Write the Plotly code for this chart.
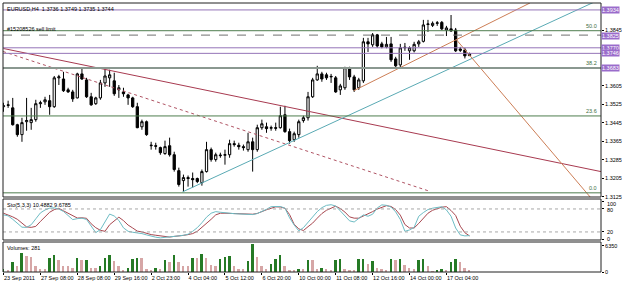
import plotly.graph_objects as go
from plotly.subplots import make_subplots

# ---------------- data ----------------
open_ = [1.3515, 1.3523, 1.3510, 1.3437, 1.3394, 1.3450, 1.3446, 1.3459, 1.3528, 1.3536,
         1.3541, 1.3515, 1.3640, 1.3635, 1.3588, 1.3579, 1.3553, 1.3657, 1.3631, 1.3558,
         1.3528, 1.3553, 1.3618, 1.3640, 1.3627, 1.3588, 1.3579, 1.3566, 1.3553, 1.3515,
         1.3428, 1.3450, 1.3346, 1.3346, 1.3338, 1.3312, 1.3346, 1.3307, 1.3238, 1.3195,
         1.3208, 1.3204, 1.3204, 1.3186, 1.3234, 1.3329, 1.3286, 1.3303, 1.3305, 1.3307,
         1.3355, 1.3348, 1.3342, 1.3329, 1.3363, 1.3329, 1.3424, 1.3428, 1.3422, 1.3424,
         1.3424, 1.3480, 1.3407, 1.3372, 1.3394, 1.3455, 1.3467, 1.3558, 1.3631, 1.3657,
         1.3653, 1.3644, 1.3640, 1.3588, 1.3597, 1.3684, 1.3644, 1.3597, 1.3627, 1.3796,
         1.3783, 1.3826, 1.3787, 1.3774, 1.3787, 1.3722, 1.3696, 1.3770, 1.3757, 1.3757,
         1.3787, 1.3798, 1.3871, 1.3867, 1.3876, 1.3880, 1.3847, 1.3852, 1.3847, 1.3765,
         1.3761, 1.3736]
high = [1.3532, 1.3541, 1.3553, 1.3441, 1.3467, 1.3553, 1.3510, 1.3545, 1.3541, 1.3558,
        1.3566, 1.3648, 1.3653, 1.3666, 1.3597, 1.3588, 1.3662, 1.3684, 1.3640, 1.3575,
        1.3558, 1.3631, 1.3679, 1.3675, 1.3662, 1.3609, 1.3597, 1.3571, 1.3558, 1.3532,
        1.3459, 1.3455, 1.3363, 1.3359, 1.3342, 1.3368, 1.3381, 1.3320, 1.3251, 1.3221,
        1.3217, 1.3230, 1.3208, 1.3243, 1.3363, 1.3338, 1.3316, 1.3316, 1.3329, 1.3372,
        1.3368, 1.3359, 1.3351, 1.3402, 1.3381, 1.3437, 1.3459, 1.3446, 1.3433, 1.3446,
        1.3515, 1.3519, 1.3420, 1.3407, 1.3459, 1.3476, 1.3579, 1.3640, 1.3692, 1.3666,
        1.3662, 1.3657, 1.3648, 1.3614, 1.3688, 1.3688, 1.3653, 1.3640, 1.3813, 1.3813,
        1.3834, 1.3830, 1.3796, 1.3817, 1.3817, 1.3731, 1.3787, 1.3791, 1.3776, 1.3796,
        1.3804, 1.3891, 1.3891, 1.3884, 1.3886, 1.3886, 1.3865, 1.3912, 1.3856, 1.3774,
        1.3770, 1.3749]
low = [1.3493, 1.3510, 1.3433, 1.3385, 1.3363, 1.3411, 1.3415, 1.3450, 1.3510, 1.3523,
       1.3480, 1.3510, 1.3609, 1.3579, 1.3575, 1.3536, 1.3551, 1.3631, 1.3553, 1.3519,
       1.3523, 1.3545, 1.3601, 1.3601, 1.3562, 1.3553, 1.3558, 1.3523, 1.3510, 1.3422,
       1.3415, 1.3389, 1.3329, 1.3329, 1.3307, 1.3307, 1.3299, 1.3234, 1.3169, 1.3147,
       1.3169, 1.3165, 1.3184, 1.3173, 1.3230, 1.3277, 1.3277, 1.3294, 1.3264, 1.3294,
       1.3342, 1.3329, 1.3325, 1.3320, 1.3234, 1.3320, 1.3415, 1.3402, 1.3411, 1.3411,
       1.3420, 1.3402, 1.3355, 1.3363, 1.3381, 1.3446, 1.3455, 1.3553, 1.3627, 1.3623,
       1.3631, 1.3618, 1.3575, 1.3566, 1.3588, 1.3631, 1.3579, 1.3588, 1.3618, 1.3752,
       1.3774, 1.3770, 1.3768, 1.3768, 1.3709, 1.3681, 1.3684, 1.3757, 1.3718, 1.3750,
       1.3774, 1.3793, 1.3839, 1.3860, 1.3865, 1.3847, 1.3821, 1.3839, 1.3752, 1.3752,
       1.3724, 1.3735]
close = [1.3519, 1.3521, 1.3437, 1.3394, 1.3446, 1.3455, 1.3459, 1.3528, 1.3532, 1.3545,
         1.3515, 1.3640, 1.3644, 1.3584, 1.3579, 1.3549, 1.3657, 1.3635, 1.3558, 1.3523,
         1.3553, 1.3618, 1.3648, 1.3653, 1.3571, 1.3597, 1.3571, 1.3553, 1.3515, 1.3424,
         1.3450, 1.3394, 1.3348, 1.3344, 1.3316, 1.3342, 1.3307, 1.3243, 1.3178, 1.3208,
         1.3204, 1.3199, 1.3191, 1.3234, 1.3329, 1.3286, 1.3307, 1.3305, 1.3307, 1.3355,
         1.3351, 1.3342, 1.3338, 1.3363, 1.3329, 1.3424, 1.3441, 1.3420, 1.3424, 1.3422,
         1.3476, 1.3407, 1.3368, 1.3398, 1.3450, 1.3467, 1.3558, 1.3631, 1.3657, 1.3635,
         1.3640, 1.3646, 1.3579, 1.3605, 1.3684, 1.3644, 1.3588, 1.3631, 1.3796, 1.3787,
         1.3826, 1.3778, 1.3774, 1.3785, 1.3718, 1.3692, 1.3770, 1.3772, 1.3770, 1.3785,
         1.3796, 1.3869, 1.3873, 1.3876, 1.3878, 1.3852, 1.3856, 1.3843, 1.3757, 1.3759,
         1.3735, 1.3744]

stoch_k = [64.6, 62, 53, 41.4, 32.4, 32, 38.9, 54.3, 69.7, 77.4,
           82, 83, 79.5, 73.5, 61.6, 52.2, 54.7, 56, 52.6, 33.7,
           18.3, 26, 47.4, 66.7, 61.6, 50, 30.7, 21.7, 19.2, 17.9,
           15.7, 12.3, 8.9, 6.3, 4.6, 5.5, 6.7, 8.4, 9.7, 11.4,
           14, 21.7, 31.2, 44, 58.6, 68.9, 73.1, 71.4, 69.7, 68.4,
           67.7, 67.1, 66.3, 65.2, 65.4, 68, 73.1, 79.1, 86, 86.9,
           86.4, 82.1, 56.9, 38, 23, 31.1, 45.7, 59.4, 73.1, 83.4,
           89.4, 91.1, 87.7, 74.9, 62.9, 49, 46, 56, 64.6, 61,
           66.3, 82.6, 90.7, 89.4, 84.9, 72.3, 52.6, 21.7, 25.2, 32,
           61, 70.6, 78.5, 82, 83.9, 85.8, 77.4, 61, 30.3, 12.3,
           9.7, 10.4882]
stoch_d = [68.9, 64.6, 59.4, 53, 43.1, 33.2, 32, 34.6, 47.4, 60.7,
           71.4, 78.3, 81.7, 75.1, 68.4, 62.9, 56.3, 56.9, 55.6, 41.4,
           31.1, 24.3, 21.7, 38.9, 49.1, 58.6, 49.6, 38, 30.3, 22.2,
           20, 16.1, 13.1, 11.4, 10.1, 7.2, 6.7, 8.4, 8.9, 11,
           13.1, 15.7, 21.7, 31.6, 41.4, 53, 64.6, 68.9, 68.9, 68.4,
           67.1, 66.3, 66.3, 66.3, 66.3, 68.4, 73.6, 77.9, 81.7, 85.6,
           85.1, 81.7, 65.4, 39.7, 28.1, 23.8, 33.7, 43.1, 56, 68,
           76.6, 82.1, 87.3, 80.9, 71.9, 59.4, 56, 56, 61, 66.3,
           73.1, 79.7, 84.3, 88.6, 86.5, 78.3, 63.9, 39.3, 30.3, 30.3,
           42.3, 55.5, 68.9, 76.6, 81.7, 84.7, 86, 76, 62.9, 35,
           18, 9.6785]

volume = [670, 400, 2350, 1340, 4700, 3860, 3610, 1510, 840, 840,
          3360, 4200, 3020, 1340, 1340, 1090, 3360, 2940, 3020, 1090,
          1090, 1510, 3360, 4030, 2770, 1340, 500, 1090, 3190, 3360,
          3360, 840, 250, 1090, 840, 3020, 2520, 4030, 2350, 1510,
          1340, 3360, 3360, 4450, 3360, 1680, 1340, 3190, 3610, 3860,
          1340, 840, 670, 2770, 6720, 3610, 1510, 670, 1930, 3190,
          4200, 1510, 500, 250, 840, 670, 3020, 3020, 840, 900,
          670, 250, 3020, 3100, 670, 500, 250, 3190, 3250, 1930,
          2770, 1090, 670, 600, 3190, 3020, 3190, 1680, 1090, 840,
          3020, 3190, 1340, 100, 250, 840, 250, 2350, 3190, 2520,
          1090, 281]

date_bars = [0, 8, 16, 24, 32, 40, 48, 56, 64, 72, 80, 88, 96]
date_labels = ["23 Sep 2011", "27 Sep 08:00", "28 Sep 08:00", "29 Sep 16:00",
               "2 Oct 23:00", "4 Oct 04:00", "5 Oct 12:00", "6 Oct 20:00",
               "10 Oct 00:00", "11 Oct 08:00", "12 Oct 16:00", "14 Oct 00:00",
               "17 Oct 04:00"]

price_ticks = [1.3125, 1.3205, 1.3285, 1.3365, 1.3445, 1.3525, 1.3605, 1.3845]

stoch_ticks = [0, 20, 80, 100]
volume_ticks = [0, 6350]

fib_labels = ["0.0", "23.6", "38.2", "50.0"]
fib_prices = [1.3142, 1.3475, 1.3683, 1.3844]

purple_levels = [1.3934, 1.3770, 1.3746]
grey_level = 1.3683
sell_limit = 1.3825
level_tags = [1.3934, 1.3825, 1.3770, 1.3746, 1.3683]

# trend lines: ([bar_a, bar_b], [price_a, price_b])
trend_red = ([0, 129.5], [1.3767, 1.3234])
trend_red_dot = ([-0.1, 92.5], [1.3754, 1.3148])
trend_teal = ([38.8, 127.8], [1.3146, 1.3966])
trend_orange_up = ([75.9, 114.1], [1.3584, 1.3964])
trend_orange_down = ([98.2, 127.4], [1.3804, 1.3118])

bars = list(range(len(close)))

# ---------------- figure ----------------
W, H = 625, 284
ML, MR, MT, MB = 3, 22, 3, 12
plot_h = H - MT - MB


def dom(top_px, bot_px):
    return [(H - MB - bot_px) / plot_h, (H - MB - top_px) / plot_h]


d_main = dom(3, 197)
d_sto = dom(199, 240)
d_vol = dom(242, 272)

FONT = "Liberation Sans"
FS = 5.5

fig = make_subplots(rows=3, cols=1, shared_xaxes=True, vertical_spacing=0)

fig.add_trace(go.Candlestick(
    x=bars, open=open_, high=high, low=low, close=close,
    increasing=dict(line=dict(color="black", width=1), fillcolor="white"),
    decreasing=dict(line=dict(color="black", width=1), fillcolor="black"),
    whiskerwidth=0, showlegend=False, hoverinfo="skip"), row=1, col=1)

# horizontal levels
for p in fib_prices:
    fig.add_shape(type="line", xref="paper", x0=0, x1=1, yref="y", y0=p, y1=p,
                  line=dict(color="#4E7D4E", width=1))
fig.add_shape(type="line", xref="paper", x0=0, x1=1, yref="y", y0=grey_level, y1=grey_level,
              line=dict(color="#8A9890", width=2))
for p in purple_levels:
    fig.add_shape(type="line", xref="paper", x0=0, x1=1, yref="y", y0=p, y1=p,
                  line=dict(color="#9474B8", width=1))
fig.add_shape(type="line", xref="paper", x0=0, x1=1, yref="y", y0=sell_limit, y1=sell_limit,
              line=dict(color="#707070", width=1, dash="dash"))

# trend lines
for tl, col, dash in ((trend_red, "#A83A50", "solid"),
                      (trend_red_dot, "#B05464", "dot"),
                      (trend_teal, "#5AAAB4", "solid"),
                      (trend_orange_up, "#CC7E56", "solid"),
                      (trend_orange_down, "#CC7E56", "solid")):
    fig.add_trace(go.Scatter(x=tl[0], y=tl[1], mode="lines",
                             line=dict(color=col, width=1, dash=dash), showlegend=False,
                             hoverinfo="skip"), row=1, col=1)

# stochastic
fig.add_trace(go.Scatter(x=bars, y=stoch_d, mode="lines",
                         line=dict(color="#A84850", width=1), showlegend=False,
                         hoverinfo="skip"), row=2, col=1)
fig.add_trace(go.Scatter(x=bars, y=stoch_k, mode="lines",
                         line=dict(color="#6DBCC4", width=1), showlegend=False,
                         hoverinfo="skip"), row=2, col=1)
for lv in (20, 80):
    fig.add_shape(type="line", xref="paper", x0=0, x1=1, yref="y2", y0=lv, y1=lv,
                  line=dict(color="#A8A8A8", width=1, dash="dot"))

# volume
vol_colors = []
for i, v in enumerate(volume):
    prev = volume[i - 1] if i > 0 else 0
    vol_colors.append("#257A25" if v > prev else "#D6A6A6")
fig.add_trace(go.Bar(x=bars, y=volume, marker=dict(color=vol_colors, line=dict(width=0)),
                     width=0.42, showlegend=False, hoverinfo="skip"), row=3, col=1)

# frames
for d in (d_main, d_sto, d_vol):
    fig.add_shape(type="rect", xref="paper", yref="paper", x0=0, x1=1, y0=d[0], y1=d[1],
                  line=dict(color="#202020", width=1), fillcolor="rgba(0,0,0,0)")

# annotations
txt_font = dict(family=FONT, size=FS, color="black")
ann = []
ann.append(dict(xref="paper", yref="paper", x=0, y=1, xanchor="left", yanchor="top",
                xshift=2, yshift=-1, showarrow=False,
                text="EURUSD,H4  1.3736 1.3749 1.3735 1.3744", font=txt_font))
ann.append(dict(xref="paper", yref="y", x=0, y=sell_limit, xanchor="left", yanchor="bottom",
                xshift=2, yshift=1, showarrow=False, text="#15208526 sell limit",
                font=txt_font))
ann.append(dict(xref="paper", yref="paper", x=0, y=d_sto[1], xanchor="left", yanchor="top",
                xshift=2, yshift=-1, showarrow=False, text="Sto(5,3,3) 10.4882 9.6785",
                font=txt_font))
ann.append(dict(xref="paper", yref="paper", x=0, y=d_vol[1], xanchor="left", yanchor="top",
                xshift=2, yshift=-1, showarrow=False, text="Volumes: 281", font=txt_font))
for lab, p in zip(fib_labels, fib_prices):
    ann.append(dict(xref="paper", yref="y", x=1, y=p, xanchor="right", yanchor="bottom",
                    xshift=-2, yshift=0, showarrow=False, text=lab,
                    font=dict(family=FONT, size=FS, color="#3E6E3E")))
for p in level_tags:
    ann.append(dict(xref="paper", yref="y", x=1, y=p, xanchor="left", yanchor="middle",
                    xshift=0, yshift=(-1 if p == sell_limit else 0), showarrow=False,
                    text=f"{p:.4f}", bgcolor="#9A6CCB", borderpad=0,
                    font=dict(family=FONT, size=FS, color="white")))
# stochastic scale labels (nudged like the terminal does at the panel edges)
sto_shift = {0: 1, 20: 0, 80: -1, 100: -3}
for v in stoch_ticks:
    ann.append(dict(xref="paper", yref="y2", x=1, y=v, xanchor="left", yanchor="middle",
                    xshift=4, yshift=sto_shift[v], showarrow=False, text=str(v),
                    font=txt_font))
fig.update_layout(annotations=ann)

axis_font = dict(family=FONT, size=FS, color="black")
xr = [-0.11, 129.5]
fig.update_xaxes(range=xr, showgrid=False, zeroline=False, rangeslider_visible=False,
                 showline=False)
fig.update_xaxes(tickmode="array", tickvals=date_bars, ticktext=date_labels,
                 ticks="outside", ticklen=2, tickcolor="black", tickangle=0,
                 ticklabelposition="outside right", tickfont=axis_font,
                 row=3, col=1)

fig.update_layout(
    width=W, height=H, autosize=False,
    margin=dict(l=ML, r=MR, t=MT, b=MB, pad=0),
    paper_bgcolor="white", plot_bgcolor="white",
    showlegend=False, bargap=0,
    yaxis=dict(domain=d_main, range=[1.3124, 1.3964], side="right", showgrid=False,
               zeroline=False, tickmode="array", tickvals=price_ticks,
               ticktext=[f"{p:.4f}" for p in price_ticks], ticks="outside", ticklen=2,
               tickcolor="black", tickfont=axis_font),
    yaxis2=dict(domain=d_sto, range=[-1, 106], side="right", showgrid=False,
                zeroline=False, tickmode="array", tickvals=stoch_ticks,
                showticklabels=False, ticks="outside", ticklen=2, tickcolor="black"),
    yaxis3=dict(domain=d_vol, range=[0, 7300], side="right", showgrid=False,
                zeroline=False, tickmode="array", tickvals=volume_ticks,
                ticktext=[str(v) for v in volume_ticks], ticks="outside", ticklen=2,
                tickcolor="black", tickfont=axis_font),
)

fig.write_html("out.html")
